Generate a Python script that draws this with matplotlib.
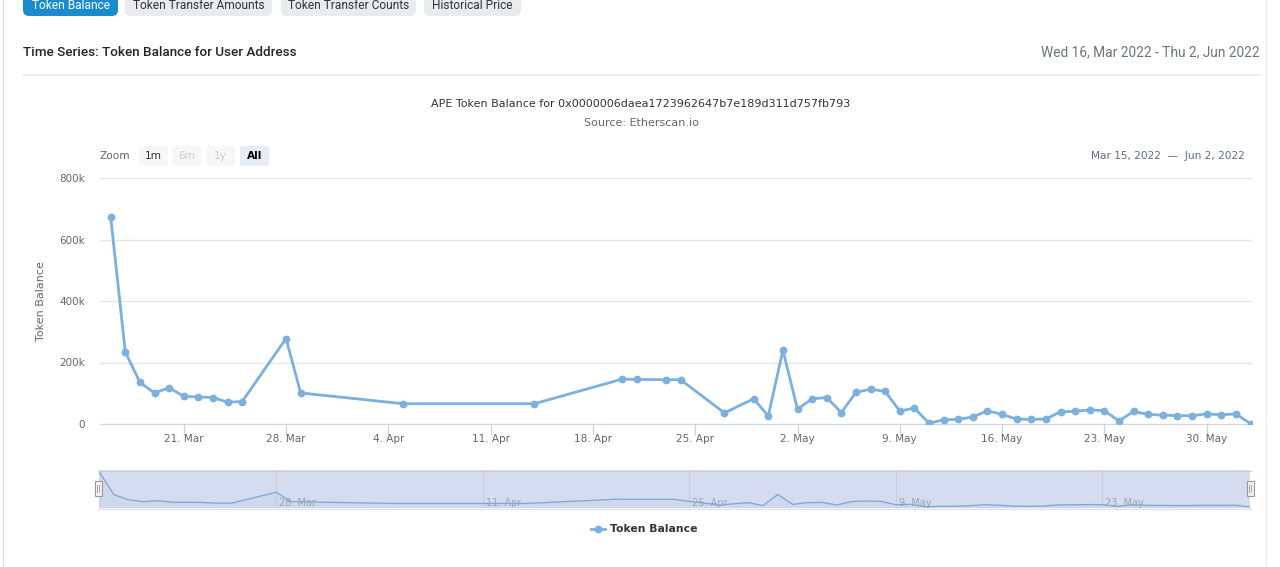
import numpy as np
import pandas as pd
import matplotlib
matplotlib.use("Agg")
import matplotlib.pyplot as plt
import matplotlib.dates as mdates
from matplotlib.patches import FancyBboxPatch, Rectangle
from matplotlib.ticker import FuncFormatter

# data
dates = ["2022-03-16", "2022-03-17", "2022-03-18", "2022-03-19", "2022-03-20",
         "2022-03-21", "2022-03-22", "2022-03-23", "2022-03-24", "2022-03-25",
         "2022-03-28", "2022-03-29", "2022-04-05", "2022-04-14", "2022-04-20",
         "2022-04-21", "2022-04-23", "2022-04-24", "2022-04-27", "2022-04-29",
         "2022-04-30", "2022-05-01", "2022-05-02", "2022-05-03", "2022-05-04",
         "2022-05-05", "2022-05-06", "2022-05-07", "2022-05-08", "2022-05-09",
         "2022-05-10", "2022-05-11", "2022-05-12", "2022-05-13", "2022-05-14",
         "2022-05-15", "2022-05-16", "2022-05-17", "2022-05-18", "2022-05-19",
         "2022-05-20", "2022-05-21", "2022-05-22", "2022-05-23", "2022-05-24",
         "2022-05-25", "2022-05-26", "2022-05-27", "2022-05-28", "2022-05-29",
         "2022-05-30", "2022-05-31", "2022-06-01", "2022-06-02"]
balance = [674000, 235000, 135000, 101000, 118000,
           90000, 88000, 86000, 71000, 73000,
           278000, 101000, 66000, 66000, 146000,
           145000, 144000, 144000, 36000, 82000,
           26000, 240000, 48000, 82000, 86000,
           37000, 103000, 113000, 106000, 42000,
           52000, 2000, 14000, 15000, 23000,
           43000, 31000, 16000, 15000, 16000,
           40000, 41000, 46000, 43000, 10000,
           41000, 31000, 29000, 27000, 27000,
           33000, 30000, 33000, 1000]
y_ticks = [0, 200000, 400000, 600000, 800000]
y_tick_labels = ["0", "200k", "400k", "600k", "800k"]
nav_ticks = ["2022-03-28", "2022-04-11", "2022-04-25", "2022-05-09", "2022-05-23"]
tabs = ["Token Balance", "Token Transfer Amounts", "Token Transfer Counts", "Historical Price"]
zoom_buttons = ["1m", "6m", "1y", "All"]

x = mdates.date2num(pd.to_datetime(dates))
nav_x = mdates.date2num(pd.to_datetime(nav_ticks))

W, H = 1280, 567
fig = plt.figure(figsize=(W / 100, H / 100), dpi=100)
fig.patch.set_facecolor("white")

line_col = "#7cb0de"
txt_col = "#666666"

# main chart
ax = fig.add_axes([100 / W, 1 - 424 / H, 1152 / W, 246 / H])
ax.plot(x, balance, color=line_col, lw=2, marker="o", ms=4.6,
        markerfacecolor=line_col, markeredgecolor=line_col, zorder=3)
ax.set_ylim(0, 800000)
ax.set_xlim(x[0] - 0.73, x[-1] + 0.1)
ax.set_yticks(y_ticks)
ax.set_yticklabels(y_tick_labels)
ax.grid(axis="y", color="#e6e6e6", lw=1)
ax.set_axisbelow(True)
for s in ["top", "right", "left"]:
    ax.spines[s].set_visible(False)
ax.spines["bottom"].set_color("#ccd6eb")
ax.xaxis.set_major_locator(mdates.WeekdayLocator(byweekday=mdates.MO))
ax.xaxis.set_major_formatter(FuncFormatter(
    lambda v, p: f"{mdates.num2date(v).day}. {mdates.num2date(v).strftime('%b')}"))
ax.tick_params(axis="x", colors="#ccd6eb", length=8, width=1, pad=-1,
               labelcolor=txt_col, labelsize=7.5)
ax.tick_params(axis="y", length=0, pad=11, labelcolor=txt_col, labelsize=7.5)
ax.set_ylabel("Token Balance", color=txt_col, fontsize=8, labelpad=9)

# navigator
nav = fig.add_axes([99 / W, 1 - 508 / H, 1151 / W, 38 / H])
nav.set_facecolor("#d5dcef")
nav.plot(x, balance, color="#7ea6d6", lw=0.9)
nav.fill_between(x, balance, -20000, color="#6e9bd0", alpha=0.05)
nav.set_xlim(x[0], x[-1])
nav.set_ylim(-20000, 700000)
nav.set_xticks(nav_x)
nav.set_xticklabels([])
nav.set_yticks([])
nav.tick_params(length=0)
nav.grid(axis="x", color="#c6cde0", lw=0.8)
for s in nav.spines.values():
    s.set_visible(False)
for xv, lab in zip(nav_x, nav_ticks):
    d = pd.Timestamp(lab)
    nav.text(xv + 0.2, 80000, f"{d.day}. {d.strftime('%b')}", color="#9aa3b5",
             fontsize=7, ha="left", va="center")

# overlay for page decorations
ov = fig.add_axes([0, 0, 1, 1], facecolor="none")
ov.set_xlim(0, W)
ov.set_ylim(H, 0)
ov.axis("off")

# card borders
ov.plot([3, 3], [0, H], color="#e4e4e4", lw=1)
ov.plot([1266, 1266], [0, H], color="#eeeeee", lw=1)

# tabs
tab_x = [23, 125, 281, 424]
tab_w = [95, 147, 135, 97]
for i, (t, tx, tw) in enumerate(zip(tabs, tab_x, tab_w)):
    fc = "#1b8bcf" if i == 0 else "#e9ebee"
    tc = "white" if i == 0 else "#333333"
    ov.add_patch(FancyBboxPatch((tx, -12), tw, 28, boxstyle="round,pad=0,rounding_size=6",
                                fc=fc, ec="none"))
    ov.text(tx + tw / 2, 5.5, t, color=tc, fontsize=8.6, family="Roboto",
            ha="center", va="center")

ov.text(23, 52, "Time Series: Token Balance for User Address", fontsize=9.7,
        family="Roboto", weight="medium", color="#212529", va="center")
ov.text(1260, 52, "Wed 16, Mar 2022 - Thu 2, Jun 2022", fontsize=9.9,
        family="Roboto", color="#6c757d", va="center", ha="right")
ov.plot([23, 1260], [74.5, 74.5], color="#e9ecef", lw=1.2)

# chart titles
ov.text(641, 104, "APE Token Balance for 0x0000006daea1723962647b7e189d311d757fb793",
        fontsize=8.0, color="#333333", ha="center", va="center")
ov.text(641, 123, "Source: Etherscan.io", fontsize=8.0, color="#666666",
        ha="center", va="center")

# range selector
ov.text(100, 156, "Zoom", fontsize=7.6, color="#666666", va="center")
btn_x = [139, 172, 206, 240]
for i, (b, bx) in enumerate(zip(zoom_buttons, btn_x)):
    if b == "All":
        fc, tc, wt = "#e6ebf5", "#000000", "bold"
    elif b == "1m":
        fc, tc, wt = "#f7f7f7", "#333333", "normal"
    else:
        fc, tc, wt = "#f7f7f7", "#cccccc", "normal"
    ov.add_patch(FancyBboxPatch((bx, 146), 29, 20, boxstyle="round,pad=0,rounding_size=2",
                                fc=fc, ec="none"))
    ov.text(bx + 14.5, 156, b, fontsize=7.6, color=tc, weight=wt,
            ha="center", va="center")
ov.text(1245, 156, "Mar 15, 2022  \u2014  Jun 2, 2022", fontsize=7.6,
        color="#5f6b85", ha="right", va="center")

# navigator outline and handles
ov.plot([98, 1251], [470.5, 470.5], color="#cccccc", lw=0.8)
ov.plot([98, 1251], [508.5, 508.5], color="#e0e0e0", lw=0.8)
for hx in [98, 1250]:
    ov.add_patch(Rectangle((hx - 3.5, 481), 7, 15, fc="#f2f2f2", ec="#999999", lw=0.8))
    ov.plot([hx - 1, hx - 1], [485, 492], color="#999999", lw=0.6)
    ov.plot([hx + 1, hx + 1], [485, 492], color="#999999", lw=0.6)

# legend
ov.plot([591, 605], [529, 529], color=line_col, lw=2)
ov.plot([598], [529], marker="o", ms=4.6, color=line_col)
ov.text(610, 529, "Token Balance", fontsize=7.8, weight="bold", color="#333333",
        va="center")

fig.savefig("out.png", dpi=100)
